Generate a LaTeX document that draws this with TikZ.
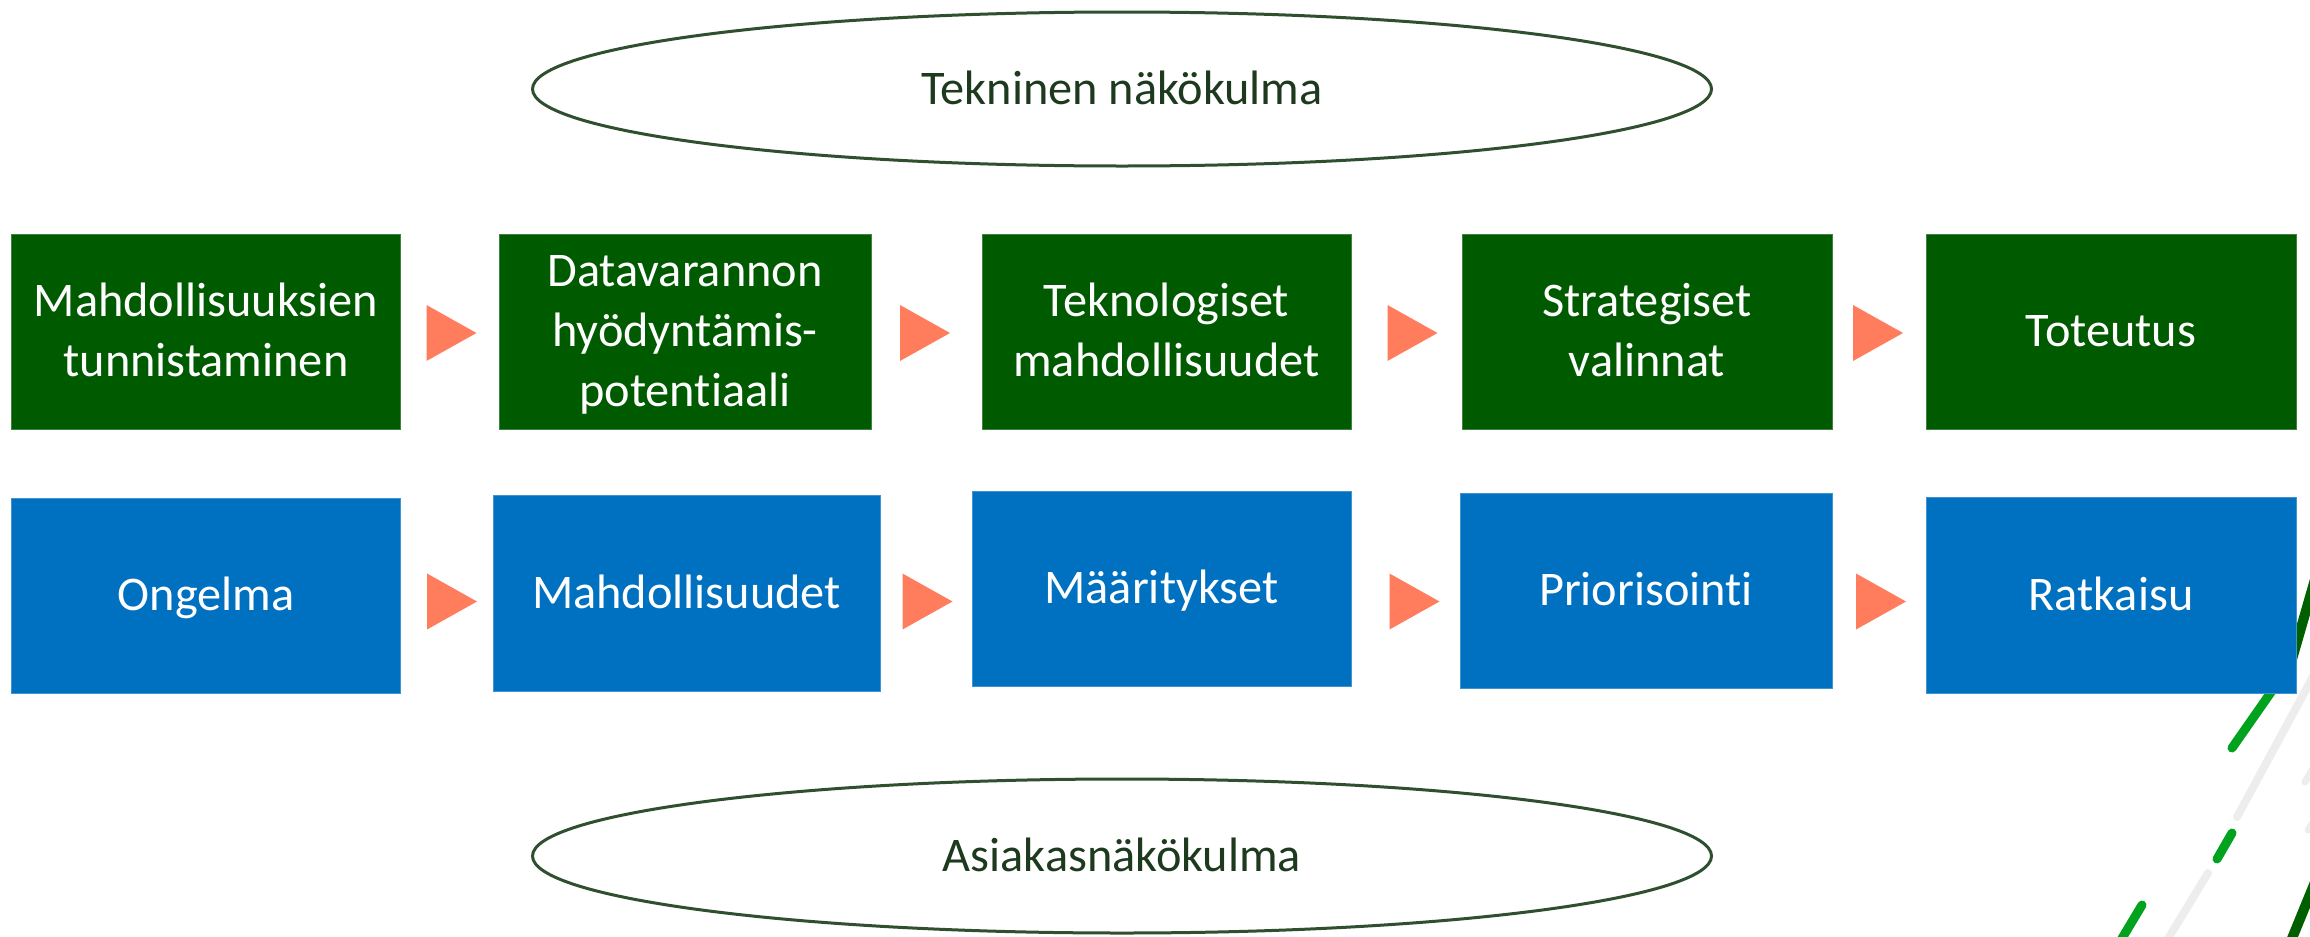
\documentclass[tikz,border=0pt]{standalone}
\usepackage{fontspec}
\setmainfont{Carlito}[Ligatures={NoCommon}]
\usetikzlibrary{shapes.geometric}
\definecolor{boxgreen}{HTML}{005A00}
\definecolor{boxblue}{HTML}{0070C0}
\definecolor{arrowcoral}{HTML}{FF7D5D}
\definecolor{ellline}{HTML}{2F4F2F}
\definecolor{elltext}{HTML}{1E3A1E}
\definecolor{decodark}{HTML}{006000}
\definecolor{decogreen}{HTML}{00A21E}
\definecolor{decogrey}{HTML}{EDEDED}
\newcommand\mystrut{\rule[-14.5bp]{0pt}{59bp}}
\begin{document}
\begin{tikzpicture}[x=1bp,y=-1bp,
  box/.style={rectangle, inner sep=0pt, text=white, align=center,
    font=\fontsize{48.5}{59}\selectfont},
  greenbox/.style={box, fill=boxgreen, draw=boxgreen!75!white, line width=1bp},
  bluebox/.style={box, fill=boxblue, draw=boxblue!75!white, line width=1bp},
  oval/.style={ellipse, draw=ellline, line width=3bp, fill=white, text=elltext,
    inner sep=0pt, minimum width=1179bp, minimum height=154bp,
    font=\fontsize{48.5}{59}\selectfont},
  tri/.pic={\fill[arrowcoral] (-25,-28) -- (25,0) -- (-25,28) -- cycle;},
  deco/.style={line cap=round}
]
\useasboundingbox (0,0) rectangle (2310,936);

% decorative lines (bottom right corner)
\begin{scope}
\clip (0,0) rectangle (2310,936);
\draw[deco, decodark, line width=10bp] (2322,555) -- (2286,680);
\draw[deco, decodark, line width=10bp] (2322,865) -- (2284,958);
\draw[deco, decogrey, line width=8bp] (2322,660) -- (2237,817);
\draw[deco, decogrey, line width=8bp] (2208,873) -- (2155,960);
\draw[deco, decogrey, line width=7bp] (2318,760) -- (2305,782);
\draw[deco, decogrey, line width=7bp] (2320,812) -- (2308,830);
\draw[deco, decogreen, line width=9bp] (2290,665) -- (2232,748);
\draw[deco, decogreen, line width=9bp] (2232,833) -- (2217,859);
\draw[deco, decogreen, line width=9bp] (2142,905) -- (2115,950);
\end{scope}

% green row
\node[greenbox, minimum width=388bp, minimum height=195bp] (g1) at (206,331.5)
  {\mystrut Mahdollisuuksien\\\mystrut tunnistaminen};
\node[greenbox, minimum width=372bp, minimum height=195bp] (g2) at (685,331.5)
  {\mystrut Datavarannon\\\mystrut hyödyntämis-\\\mystrut potentiaali};
\node[greenbox, minimum width=369bp, minimum height=195bp] (g3) at (1166.5,331.5)
  {\mystrut Teknologiset\\\mystrut mahdollisuudet};
\node[greenbox, minimum width=370bp, minimum height=195bp] (g4) at (1647,331.5)
  {\mystrut Strategiset\\\mystrut valinnat};
\node[greenbox, minimum width=370bp, minimum height=195bp] (g5) at (2111,331.5)
  {\mystrut Toteutus};

% blue row
\node[bluebox, minimum width=388bp, minimum height=195bp] (b1) at (206,595.5)
  {\mystrut Ongelma};
\node[bluebox, minimum width=387bp, minimum height=196bp] (b2) at (686.5,593)
  {\mystrut Mahdollisuudet};
\node[bluebox, minimum width=379bp, minimum height=195bp] (b3) at (1161.5,588.5)
  {\mystrut Määritykset};
\node[bluebox, minimum width=372bp, minimum height=195bp] (b4) at (1646,590.5)
  {\mystrut Priorisointi};
\node[bluebox, minimum width=370bp, minimum height=196bp] (b5) at (2111,595)
  {\mystrut Ratkaisu};

% arrows between boxes
\pic (ga1) at (451.5,333) {tri};
\pic (ga2) at (925,333) {tri};
\pic (ga3) at (1412.5,333) {tri};
\pic (ga4) at (1878,333) {tri};
\pic (ba1) at (452,601.5) {tri};
\pic (ba2) at (927.5,601.5) {tri};
\pic (ba3) at (1414.5,601.5) {tri};
\pic (ba4) at (1881,601.5) {tri};

% ellipses
\node[oval] (tech) at (1122,89) {\mystrut Tekninen näkökulma};
\node[oval] (cust) at (1122,856) {\mystrut Asiakasnäkökulma};
\end{tikzpicture}
\end{document}
